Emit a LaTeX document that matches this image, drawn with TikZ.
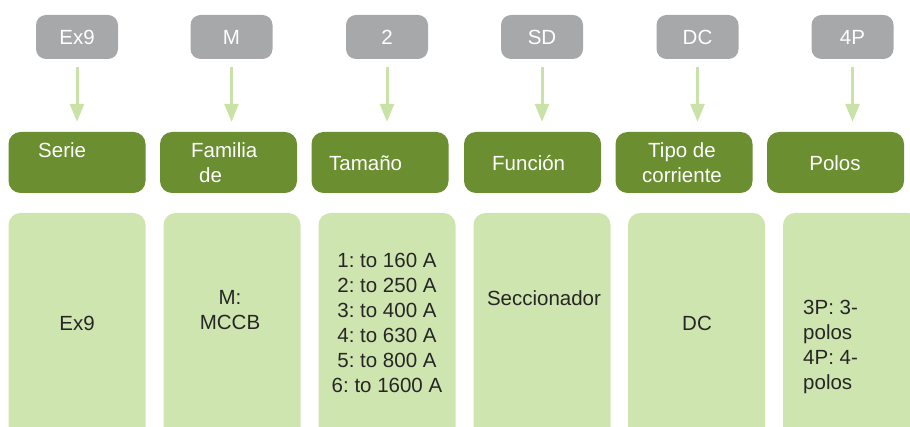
\documentclass[tikz,border=0pt]{standalone}
\usepackage{fontspec}
\setmainfont{Liberation Sans}
\usetikzlibrary{arrows.meta}
\frenchspacing
\definecolor{codegray}{HTML}{A7A8AA}
\definecolor{fieldgreen}{HTML}{6A8E30}
\definecolor{palegreen}{HTML}{CFE5AF}
\definecolor{arrowgreen}{HTML}{C9E2A8}
\definecolor{darktext}{HTML}{262626}
\begin{document}
\begin{tikzpicture}[x=1pt,y=-1pt]
		\tikzstyle{code}=[rectangle,rounded corners=10pt,fill=codegray,text=white,minimum width=82pt,minimum height=44pt,font=\fontsize{20.5}{25}\selectfont]
		\tikzstyle{field}=[rectangle,rounded corners=12pt,fill=fieldgreen,minimum width=137pt,minimum height=61pt]
		\tikzstyle{value}=[rectangle,rounded corners=12pt,fill=palegreen,minimum width=137pt,minimum height=240pt]
		\tikzstyle{fieldtext}=[text=white,inner sep=0pt,font=\fontsize{20.5}{25}\selectfont]
		\tikzstyle{valuetext}=[text=darktext,inner sep=0pt,font=\fontsize{20.5}{25}\selectfont]
		\tikzstyle{edge}=[draw,arrowgreen,line width=3pt,-{Triangle[width=14pt,length=18pt]},shorten <=8pt,shorten >=10pt]
		\clip (0,0) rectangle (910,427);
		\begin{scope}
			% codes
			\node [code] (c1) at (77,37) {Ex9};
			\node [code] (c2) at (231.5,37) {M};
			\node [code] (c3) at (387,37) {2};
			\node [code] (c4) at (542,37) {SD};
			\node [code] (c5) at (697.5,37) {DC};
			\node [code] (c6) at (852.5,37) {4P};
			% fields
			\node [field] (f1) at (77,162.5) {};
			\node [field] (f2) at (228.5,162.5) {};
			\node [field] (f3) at (380,162.5) {};
			\node [field] (f4) at (532.5,162.5) {};
			\node [field] (f5) at (684,162.5) {};
			\node [field] (f6) at (835.5,162.5) {};
			\node [fieldtext,anchor=west] (t1) at (38,150) {Serie};
			\node [fieldtext,anchor=west,align=left] (t2) at (191,163) {Familia\\\hspace{8pt}de};
			\node [fieldtext,anchor=west] (t3) at (329,163) {Tamaño};
			\node [fieldtext,anchor=west] (t4) at (492,163) {Función};
			\node [fieldtext,align=center] (t5) at (682,163) {Tipo de\\corriente};
			\node [fieldtext] (t6) at (835,163) {Polos};
			% values
			\node [value] (v1) at (77,333) {};
			\node [value] (v2) at (232,333) {};
			\node [value] (v3) at (387,333) {};
			\node [value] (v4) at (542,333) {};
			\node [value] (v5) at (696.5,333) {};
			\node [value] (v6) at (851.5,333) {};
			\node [valuetext] (d1) at (77,323) {Ex9};
			\node [valuetext,align=center] (d2) at (230,310) {M:\\MCCB};
			\node [valuetext,align=center] (d3) at (387,323) {1: to 160 A\\2: to 250 A\\3: to 400 A\\4: to 630 A\\5: to 800 A\\6: to 1600 A};
			\node [valuetext] (d4) at (544,298) {Seccionador};
			\node [valuetext] (d5) at (697,323) {DC};
			\node [valuetext,anchor=west,align=left] (d6) at (803,347) {3P: 3-\\polos\\4P: 4-\\polos};
			% arrows
			\path[edge] (c1.south) -- (c1.south |- f1.north);
			\path[edge] (c2.south) -- (c2.south |- f2.north);
			\path[edge] (c3.south) -- (c3.south |- f3.north);
			\path[edge] (c4.south) -- (c4.south |- f4.north);
			\path[edge] (c5.south) -- (c5.south |- f5.north);
			\path[edge] (c6.south) -- (c6.south |- f6.north);
		\end{scope}
\end{tikzpicture}
\end{document}
